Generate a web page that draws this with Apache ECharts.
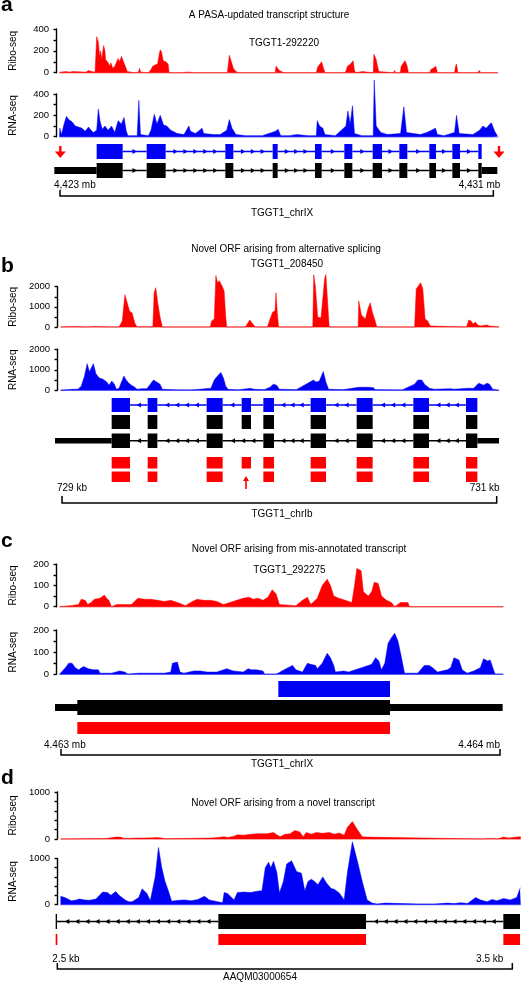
<!DOCTYPE html>
<html><head><meta charset="utf-8">
<script src="https://cdn.jsdelivr.net/npm/echarts/dist/echarts.min.js"></script>
<style>html,body{margin:0;padding:0;background:#fff}#c{width:528px;height:983px}</style>
</head><body><div id="c"></div><script>
// ---------------- DATA (positions in relative genomic bins, values in read counts) ----------------
const riboA = [[0,5],[3,10],[20,10],[25,15],[30,5],[40,10],[60,8],[80,5],[88,20],[93,30],[98,10],[108,5],[113,330],[118,280],[122,150],[125,200],[128,120],[134,250],[138,200],[140,120],[148,90],[153,60],[156,90],[162,40],[168,60],[172,70],[178,130],[183,100],[188,150],[193,140],[200,60],[206,10],[230,0],[240,5],[243,40],[247,5],[270,0],[278,30],[283,60],[290,70],[298,80],[303,170],[306,210],[310,190],[315,110],[323,100],[330,80],[333,0],[375,0],[378,10],[385,5],[398,5],[404,10],[408,0],[510,0],[516,160],[521,170],[528,40],[536,10],[545,0],[655,0],[658,60],[664,60],[668,20],[678,5],[686,0],[780,0],[784,50],[790,55],[796,100],[800,110],[804,20],[808,0],[868,0],[875,60],[884,80],[892,110],[896,20],[900,0],[920,10],[925,0],[953,0],[955,170],[962,120],[966,60],[970,10],[975,0],[1015,0],[1018,20],[1022,0],[1035,0],[1038,60],[1045,90],[1050,110],[1056,60],[1060,0],[1125,0],[1128,30],[1135,40],[1143,60],[1148,0],[1200,0],[1203,60],[1206,80],[1210,0],[1270,0],[1275,20],[1280,0],[1332,0]];
const rnaA = [[0,0],[1,80],[6,20],[14,120],[21,190],[28,160],[38,140],[48,100],[58,90],[68,80],[78,50],[88,90],[96,60],[103,40],[113,60],[118,260],[123,150],[130,70],[138,100],[148,60],[158,100],[168,40],[178,150],[188,120],[196,180],[203,50],[208,10],[236,10],[241,340],[246,20],[270,10],[278,60],[288,210],[296,120],[306,200],[316,110],[326,100],[338,60],[358,30],[378,20],[393,100],[398,50],[413,30],[433,80],[438,30],[468,20],[488,20],[508,60],[516,160],[524,80],[536,20],[566,10],[616,10],[656,50],[664,70],[672,10],[698,10],[721,20],[756,10],[780,10],[783,150],[790,100],[800,80],[806,20],[838,10],[870,100],[876,240],[883,120],[890,290],[896,30],[918,10],[953,10],[956,530],[962,100],[976,40],[996,20],[1036,30],[1046,280],[1054,40],[1096,20],[1116,40],[1130,60],[1142,80],[1148,20],[1168,10],[1200,40],[1206,200],[1214,30],[1256,20],[1276,60],[1286,100],[1296,80],[1305,110],[1312,130],[1322,50],[1330,10],[1332,0]];
const riboB = [[0,0],[43,20],[45,0],[78,0],[80,15],[95,15],[103,20],[105,0],[150,0],[153,20],[155,0],[178,0],[188,300],[196,1600],[203,1200],[210,800],[218,700],[226,200],[233,0],[248,15],[263,15],[281,0],[285,1700],[290,1950],[296,1200],[303,500],[310,0],[456,0],[460,300],[468,400],[473,2550],[478,2200],[483,2300],[490,2100],[498,1800],[503,500],[506,0],[563,0],[576,350],[588,100],[593,0],[630,0],[638,400],[646,750],[653,800],[656,1700],[660,700],[664,0],[768,0],[771,2600],[776,2000],[783,500],[793,450],[798,500],[804,2400],[808,2600],[814,1000],[818,0],[906,0],[908,1300],[916,600],[928,400],[936,900],[943,1200],[950,700],[958,300],[963,0],[1078,0],[1083,1900],[1088,2000],[1096,2200],[1103,1900],[1110,400],[1118,300],[1126,50],[1130,0],[1236,0],[1243,350],[1250,300],[1256,150],[1263,250],[1270,100],[1278,50],[1288,80],[1298,100],[1306,50],[1310,0],[1335,0]];
const rnaB = [[0,0],[38,50],[53,50],[63,200],[73,700],[81,1300],[88,900],[100,1300],[108,800],[118,600],[128,550],[134,600],[141,400],[148,250],[156,450],[164,300],[170,50],[178,100],[193,700],[200,500],[208,350],[216,250],[226,150],[233,50],[248,80],[263,80],[283,500],[293,400],[303,300],[310,50],[358,20],[400,20],[458,100],[468,500],[478,700],[488,870],[496,600],[503,200],[510,50],[540,20],[568,80],[578,100],[588,50],[620,30],[638,150],[648,300],[658,250],[666,50],[718,30],[770,500],[778,400],[788,450],[800,920],[808,400],[816,50],[860,30],[908,150],[918,150],[938,150],[953,130],[958,30],[1040,20],[1078,300],[1088,500],[1100,500],[1108,300],[1123,100],[1138,50],[1188,80],[1198,50],[1238,100],[1258,100],[1273,350],[1281,300],[1288,250],[1298,350],[1306,300],[1316,50],[1335,0]];
const riboC = [[0,0],[33,5],[58,10],[66,35],[78,30],[86,10],[96,20],[106,35],[123,40],[136,55],[143,40],[150,30],[158,0],[173,10],[193,10],[218,10],[228,25],[238,40],[258,35],[278,35],[298,30],[318,25],[338,30],[358,20],[383,5],[398,20],[418,35],[438,30],[458,30],[478,25],[498,10],[518,20],[538,30],[558,40],[576,45],[588,35],[603,40],[618,30],[633,45],[646,80],[658,60],[668,10],[718,5],[738,30],[753,45],[763,10],[783,40],[798,100],[813,130],[823,100],[833,50],[848,40],[868,30],[888,20],[896,100],[903,180],[916,170],[923,70],[938,50],[948,70],[956,115],[968,110],[978,50],[993,30],[1008,20],[1018,0],[1036,20],[1058,20],[1063,0],[1348,0]];
const rnaC = [[0,0],[18,30],[28,50],[38,50],[48,30],[58,20],[73,35],[88,25],[103,20],[118,20],[123,5],[158,5],[183,15],[198,10],[208,0],[238,5],[268,5],[318,5],[338,10],[343,50],[358,55],[366,10],[378,5],[408,15],[428,15],[448,10],[478,10],[508,25],[528,15],[558,10],[573,25],[583,20],[598,20],[618,15],[623,0],[658,0],[688,25],[708,40],[718,20],[738,10],[753,50],[763,45],[778,40],[783,25],[798,50],[813,95],[823,75],[833,40],[838,10],[863,15],[878,10],[898,20],[918,30],[938,40],[948,45],[960,75],[970,60],[978,20],[988,50],[998,140],[1008,165],[1018,185],[1028,150],[1038,80],[1048,5],[1068,5],[1088,5],[1108,40],[1123,40],[1133,30],[1148,10],[1178,20],[1188,30],[1198,75],[1213,65],[1223,20],[1238,5],[1258,15],[1278,30],[1288,70],[1300,60],[1308,65],[1316,30],[1323,0],[1348,0]];
const riboD = [[0,0],[138,10],[168,40],[183,40],[193,10],[233,20],[258,20],[283,25],[293,30],[308,20],[318,5],[458,20],[478,30],[498,50],[508,30],[528,60],[538,90],[558,80],[578,100],[598,110],[628,110],[648,140],[658,90],[668,50],[683,100],[698,110],[713,180],[728,150],[738,50],[748,140],[763,100],[778,140],[798,120],[818,140],[833,100],[848,130],[863,80],[873,250],[888,370],[903,200],[918,50],[933,40],[938,0],[1288,0],[1298,10],[1318,10],[1328,0],[1348,40],[1363,20],[1388,40],[1400,50]];
const rnaD = [[0,180],[13,150],[33,80],[48,100],[58,120],[73,100],[88,90],[108,120],[128,270],[143,260],[153,200],[168,280],[178,200],[198,90],[208,60],[218,60],[238,150],[248,340],[263,240],[273,80],[288,600],[298,1240],[308,800],[318,500],[328,300],[338,70],[358,90],[378,100],[398,80],[418,110],[438,180],[453,100],[478,60],[493,40],[498,260],[508,240],[528,100],[538,260],[558,270],[578,260],[598,290],[613,300],[623,800],[633,920],[640,800],[648,940],[658,700],[666,250],[678,500],[688,880],[703,950],[718,720],[733,680],[743,300],[753,500],[763,550],[773,500],[783,430],[798,600],[808,480],[823,350],[833,330],[848,250],[863,100],[873,700],[888,1365],[903,950],[918,500],[933,100],[948,30],[963,10],[988,30],[1038,20],[1088,10],[1138,10],[1178,30],[1198,20],[1218,40],[1238,20],[1263,150],[1278,100],[1298,60],[1313,110],[1328,80],[1348,130],[1368,100],[1388,150],[1398,350],[1400,360]];

// tick labels of the y axes
const riboTicksA = [0, 200, 400], rnaTicksA = [0, 200, 400];
const riboTicksB = [0, 1000, 2000], rnaTicksB = [0, 1000, 2000];
const riboTicksC = [0, 100, 200], rnaTicksC = [0, 100, 200];
const riboTicksD = [0, 1000], rnaTicksD = [0, 1000];

// gene models (start, end in the same bins)
const exonsA = [[128,206],[278,335],[514,538],[656,671],[783,803],[871,895],[956,984],[1036,1060],[1126,1146],[1195,1218],[1273,1283]];
const utrA = [[1,128],[1283,1330]];
const flagsA = [19, 1335];
const exonsB = [[173,228],[281,310],[458,506],[563,591],[628,660],[770,816],[908,956],[1078,1125],[1236,1270]];
const exonsBAlt = [[173,228],[281,310],[458,506],[628,660],[770,816],[908,956],[1078,1125],[1236,1270]];
const utrB = [[3,173],[1270,1335]];
const flagsB = [576];
const blueC = [[673,1008]];
const cdsC = [[70,1008]];
const utrC = [[3,1346]];
const orfC = [[70,1008]];
const exonsD = [[5,9],[493,936],[1348,1398]];
const orfD = [[5,10],[493,936],[1348,1398]];

// scale bars and texts
const scaleA = [18, 1318], scaleLabelsA = ['4,423 mb', '4,431 mb'];
const scaleB = [24, 1328], scaleLabelsB = ['729 kb', '731 kb'];
const scaleC = [21, 1338], scaleLabelsC = ['4.463 mb', '4.464 mb'];
const scaleD = [10, 1375], scaleLabelsD = ['2.5 kb', '3.5 kb'];
const chromLabels = ['TGGT1_chrIX', 'TGGT1_chrIb', 'TGGT1_chrIX', 'AAQM03000654'];
const panelLetters = ['a', 'b', 'c', 'd'];
const panelTitles = ['A PASA-updated transcript structure', 'Novel ORF arising from alternative splicing', 'Novel ORF arising from mis-annotated transcript', 'Novel ORF arising from a novel transcript'];
const geneNames = ['TGGT1-292220', 'TGGT1_208450', 'TGGT1_292275', ''];

// ---------------- STYLE / LAYOUT ----------------
const FONT = '"Liberation Sans", Arial, Helvetica, sans-serif';
const RED = '#ff0000', RED_BASE = '#f28a8a', BLUE = '#0000f5', BLUE_BASE = '#7a7aff', BLACK = '#000000';

function modelItems(exons, row, dir, utrs) {
  const items = [];
  if (dir !== 0) {
    for (let i = 1; i < exons.length; i++) items.push([exons[i-1][1], exons[i][0], row, 2, dir]);
  }
  (utrs || []).forEach(u => items.push([u[0], u[1], row, 1, 0]));
  exons.forEach(e => items.push([e[0], e[1], row, 0, 0]));
  return items;
}

const panels = [
  {
    left: 54, xMax: 1332,
    ribo: {top: 29, h: 43.7, ticks: riboTicksA, step: 100, data: riboA},
    rna: {top: 94, h: 42.7, ticks: rnaTicksA, step: 100, data: rnaA},
    rows: [
      {top: 144, h: 15, color: BLUE},
      {top: 163, h: 15, color: BLACK, inset: 4},
      {top: 146, bottom: 158, color: RED, head: 11, headH: 6.5},
      {y: 196, tick: 6, lblY: 185, dxL: -6, dxR: 7}
    ],
    items: [].concat(
      modelItems(exonsA, 0, 1),
      modelItems(exonsA, 1, 1, utrA),
      flagsA.map(f => [f, f, 2, 3, 1]),
      [[scaleA[0], scaleA[1], 3, 4, 0]]),
    scaleLabels: scaleLabelsA,
    letterY: 5.5, titleY: 15, geneY: 43, titleX: 269, geneX: 284, chromX: 282, chromY: 213
  },
  {
    left: 54, xMax: 1335,
    ribo: {top: 286.7, h: 40.3, ticks: riboTicksB, step: 500, data: riboB},
    rna: {top: 349.3, h: 41, ticks: rnaTicksB, step: 500, data: rnaB},
    rows: [
      {top: 398, h: 14, color: BLUE},
      {top: 415, h: 14, color: BLACK},
      {top: 433.5, h: 14.5, color: BLACK, inset: 4.5},
      {top: 457, h: 11.5, color: RED},
      {top: 471.5, h: 10.5, color: RED},
      {top: 476, bottom: 489, color: RED, head: 6, headH: 5},
      {y: 503, tick: 7, lblY: 488, dxL: -5, dxR: 3}
    ],
    items: [].concat(
      modelItems(exonsB, 0, -1),
      modelItems(exonsB, 1, 0),
      modelItems(exonsBAlt, 2, -1, utrB),
      modelItems(exonsB, 3, 0),
      modelItems(exonsBAlt, 4, 0),
      flagsB.map(f => [f, f, 5, 3, -1]),
      [[scaleB[0], scaleB[1], 6, 4, 0]]),
    scaleLabels: scaleLabelsB,
    letterY: 266.5, titleY: 249, geneY: 264, titleX: 286, geneX: 287, chromX: 282, chromY: 514
  },
  {
    left: 54, xMax: 1348,
    ribo: {top: 564.3, h: 42.4, ticks: riboTicksC, step: 50, data: riboC},
    rna: {top: 630, h: 44.3, ticks: rnaTicksC, step: 50, data: rnaC},
    rows: [
      {top: 681, h: 16, color: BLUE},
      {top: 700, h: 15, color: BLACK, inset: 4},
      {top: 722, h: 12, color: RED},
      {y: 755, tick: 6, lblY: 745, dxL: -17, dxR: 0}
    ],
    items: [].concat(
      modelItems(blueC, 0, 0),
      modelItems(cdsC, 1, 0, utrC),
      modelItems(orfC, 2, 0),
      [[scaleC[0], scaleC[1], 3, 4, 0]]),
    scaleLabels: scaleLabelsC,
    letterY: 541.7, titleY: 549, geneY: 570, titleX: 299, geneX: 289.5, chromX: 282, chromY: 764
  },
  {
    left: 54, xMax: 1400,
    ribo: {top: 792, h: 47, ticks: riboTicksD, step: 200, data: riboD},
    rna: {top: 858.5, h: 46, ticks: rnaTicksD, step: 200, data: rnaD},
    rows: [
      {top: 914, h: 15, color: BLACK},
      {top: 934, h: 11, color: RED},
      {y: 969, tick: 6, lblY: 959, dxL: -5, dxR: -9}
    ],
    items: [].concat(
      modelItems(exonsD, 0, -1),
      modelItems(orfD, 1, 0),
      [[scaleD[0], scaleD[1], 2, 4, 0]]),
    scaleLabels: scaleLabelsD,
    letterY: 778.4, titleY: 803, geneY: 0, titleX: 283, geneX: 0, chromX: 260, chromY: 977
  }
];

function geneRender(p) {
  return function (params, api) {
    const s = api.value(0), e = api.value(1), r = p.rows[api.value(2)];
    const kind = api.value(3), dir = api.value(4);
    const x0 = api.coord([s, 0])[0], x1 = api.coord([e, 0])[0];
    if (kind === 0) {
      return {type: 'rect', shape: {x: x0, y: r.top, width: Math.max(x1 - x0, 1.3), height: r.h}, style: {fill: r.color}};
    }
    if (kind === 1) {
      const ins = r.inset || 0;
      return {type: 'rect', shape: {x: x0, y: r.top + ins, width: x1 - x0, height: r.h - 2 * ins}, style: {fill: r.color}};
    }
    if (kind === 2) {
      const y = r.top + r.h / 2;
      const children = [{type: 'line', shape: {x1: x0, y1: y, x2: x1, y2: y}, style: {stroke: r.color, lineWidth: 1.5}}];
      const gap = x1 - x0;
      const n = Math.max(0, Math.round(gap / 10) - 1);
      for (let i = 1; i <= n; i++) {
        const cx = x0 + i * gap / (n + 1);
        children.push({type: 'polygon', shape: {points: [[cx + 2.2 * dir, y], [cx - 2.2 * dir, y - 2.6], [cx - 2.2 * dir, y + 2.6]]}, style: {fill: r.color}});
      }
      return {type: 'group', children: children};
    }
    if (kind === 3) {
      const hw = r.head / 2, hh = r.headH;
      if (dir > 0) {
        return {type: 'group', children: [
          {type: 'rect', shape: {x: x0 - 1.2, y: r.top, width: 2.4, height: r.bottom - r.top - hh + 1}, style: {fill: r.color}},
          {type: 'polygon', shape: {points: [[x0 - hw, r.bottom - hh], [x0 + hw, r.bottom - hh], [x0, r.bottom]]}, style: {fill: r.color}}
        ]};
      }
      return {type: 'group', children: [
        {type: 'rect', shape: {x: x0 - 0.8, y: r.top + hh - 1, width: 1.6, height: r.bottom - r.top - hh + 1}, style: {fill: r.color}},
        {type: 'polygon', shape: {points: [[x0 - hw, r.top + hh], [x0 + hw, r.top + hh], [x0, r.top]]}, style: {fill: r.color}}
      ]};
    }
    // scale bracket
    return {type: 'group', children: [
      {type: 'polyline', shape: {points: [[x0, r.y - r.tick], [x0, r.y], [x1, r.y], [x1, r.y - r.tick]]}, style: {stroke: BLACK, lineWidth: 1.5, fill: null}},
      {type: 'text', style: {text: p.scaleLabels[0], x: x0 + r.dxL, y: r.lblY, align: 'left', verticalAlign: 'middle', textAlign: 'left', textVerticalAlign: 'middle', font: '10px ' + FONT, fill: BLACK}},
      {type: 'text', style: {text: p.scaleLabels[1], x: x1 + r.dxR, y: r.lblY, align: 'right', verticalAlign: 'middle', textAlign: 'right', textVerticalAlign: 'middle', font: '10px ' + FONT, fill: BLACK}}
    ]};
  };
}

const option = {animation: false, grid: [], xAxis: [], yAxis: [], series: [], graphic: []};

panels.forEach((p, pi) => {
  const width = p.xMax / 3;
  [['Ribo-seq', p.ribo, RED, RED_BASE], ['RNA-seq', p.rna, BLUE, BLUE_BASE]].forEach(([name, t, col, base]) => {
    const gi = option.grid.length;
    option.grid.push({left: p.left, top: t.top, width: width, height: t.h, containLabel: false});
    option.xAxis.push({gridIndex: gi, type: 'value', min: 0, max: p.xMax, show: false});
    option.yAxis.push({
      gridIndex: gi, type: 'value', min: 0, max: t.ticks[t.ticks.length - 1], interval: t.step, offset: 3,
      axisLine: {show: true, onZero: false, lineStyle: {color: BLACK, width: 1.4}},
      axisTick: {show: true, length: 3, lineStyle: {color: BLACK, width: 1.4}},
      axisLabel: {fontSize: 9.5, color: BLACK, fontFamily: FONT, margin: 7.5, showMinLabel: true, showMaxLabel: true,
        formatter: v => (t.ticks.indexOf(v) >= 0 ? String(v) : '')},
      splitLine: {show: false},
      name: name, nameLocation: 'middle', nameRotate: 90, nameGap: 38.5,
      nameTextStyle: {fontSize: 10, color: BLACK, fontFamily: FONT}
    });
    option.series.push({type: 'line', xAxisIndex: gi, yAxisIndex: gi, data: [[0, 0], [p.xMax, 0]], symbol: 'none', silent: true,
      lineStyle: {color: base, width: 1.5}, z: 1, clip: false});
    option.series.push({type: 'line', xAxisIndex: gi, yAxisIndex: gi, data: t.data, symbol: 'none', showSymbol: false, silent: true,
      lineStyle: {color: col, width: 0.5}, areaStyle: {color: col, opacity: 1}, z: 2, clip: false});
  });
  const gg = option.grid.length;
  option.grid.push({left: p.left, top: 0, width: width, height: 983, containLabel: false});
  option.xAxis.push({gridIndex: gg, type: 'value', min: 0, max: p.xMax, show: false});
  option.yAxis.push({gridIndex: gg, type: 'value', min: 0, max: 983, inverse: true, show: false});
  option.series.push({type: 'custom', coordinateSystem: 'cartesian2d', xAxisIndex: gg, yAxisIndex: gg, silent: true,
    data: p.items, renderItem: geneRender(p), z: 5, clip: false});

  const txt = (s, x, y, size, bold, align) => ({type: 'text', x: x, y: y, silent: true, z: 10,
    style: {text: s, x: 0, y: 0, fill: BLACK, font: (bold ? 'bold ' : '') + size + 'px ' + FONT,
      align: align || 'center', verticalAlign: 'middle', textAlign: align || 'center', textVerticalAlign: 'middle'}});
  option.graphic.push(txt(panelLetters[pi], 1, p.letterY, 21, true, 'left'));
  option.graphic.push(txt(panelTitles[pi], p.titleX, p.titleY, 10));
  if (geneNames[pi]) option.graphic.push(txt(geneNames[pi], p.geneX, p.geneY, 10));
  option.graphic.push(txt(chromLabels[pi], p.chromX, p.chromY, 10));
});

const chart = echarts.init(document.getElementById('c'), null, {renderer: 'canvas', width: 528, height: 983});
chart.setOption(option);
</script></body></html>
